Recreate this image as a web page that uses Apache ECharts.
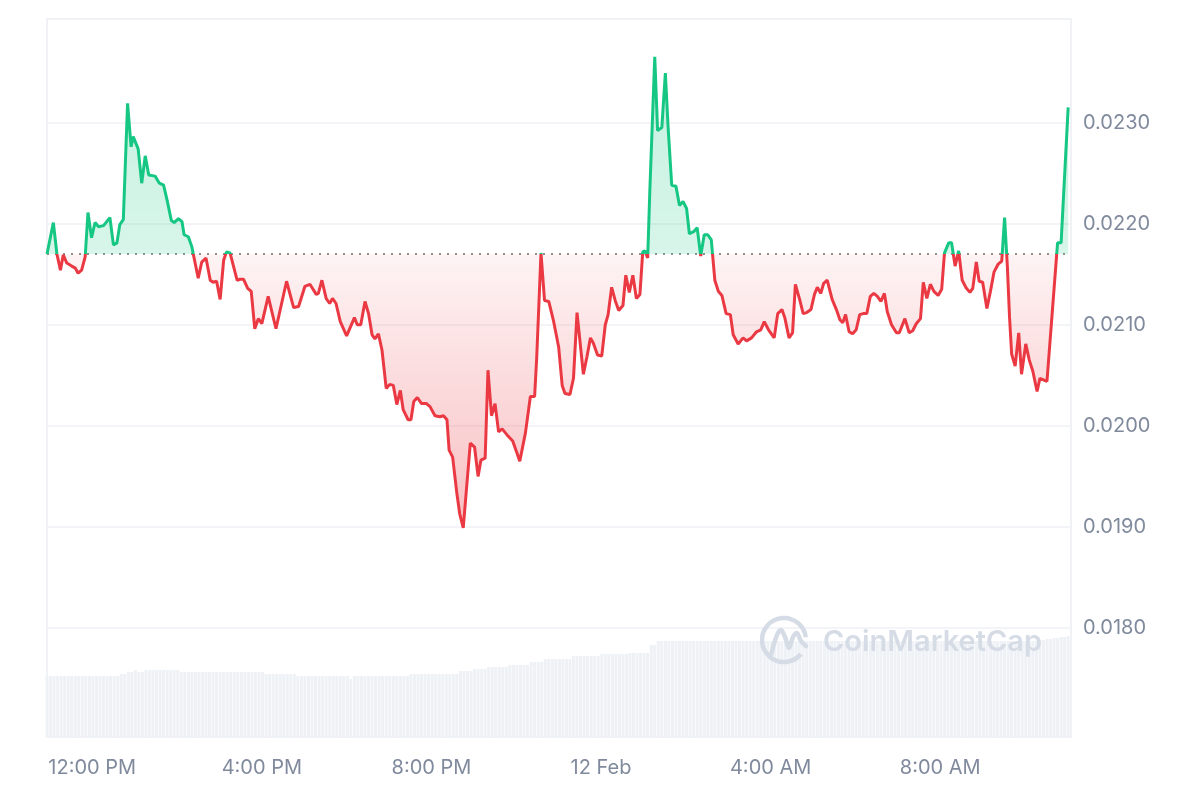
<!DOCTYPE html>
<html>
<head>
<meta charset="utf-8">
<script src="https://cdn.jsdelivr.net/npm/echarts@6/dist/echarts.min.js"></script>
<style>html,body{margin:0;padding:0;background:#fff}#c{width:1200px;height:800px}</style>
</head>
<body>
<div id="c"></div>
<script>
// minutes relative to 12:00 PM (11 Feb)
const priceTimes = [
-64,-55,-50,-45,-41,-36,-29,-24,-20,-15,-10,-6,-1,4,9,16,25,30,35,39,44,50,55,58,65,70,75,80,89,95,
101,106,112,116,122,127,130,136,141,143,150,155,161,167,171,176,181,186,190,195,205,209,214,220,225,
230,235,240,249,260,268,275,285,292,301,308,317,320,325,331,336,340,345,351,360,371,375,380,386,391,
396,400,405,410,416,421,426,431,436,440,447,451,455,460,466,473,478,485,492,497,502,505,510,516,520,
525,535,541,546,550,556,560,565,570,575,580,587,595,601,605,613,620,626,629,635,640,646,653,660,665,
669,676,681,686,695,700,705,709,715,721,726,730,735,740,745,751,755,760,765,770,775,779,782,786,789,
796,800,806,811,815,820,826,831,836,841,845,851,856,861,866,871,876,881,886,891,897,903,907,914,921,
926,933,940,946,951,957,965,970,976,980,986,991,995,1001,1006,1011,1017,1022,1026,1031,1035,1040,1047,1053,1058,
1062,1066,1071,1076,1081,1086,1091,1096,1101,1106,1111,1116,1121,1125,1131,1138,1142,1150,1156,1161,1166,1172,1176,1181,1186,
1191,1197,1202,1206,1212,1216,1221,1226,1231,1237,1242,1246,1251,1255,1260,1266,1271,1276,1282,1287,1291,1295,1298,1301,1306,
1311,1315,1321,1326,1331,1337,1341,1351,1366,1371,1381
];
const prices = [
0.02170,0.02201,0.02170,0.02154,0.02169,0.02161,0.02158,0.02156,0.02151,0.02154,0.02167,0.02211,0.02186,0.02201,0.02197,0.02198,0.02206,0.02179,0.02181,0.02199,0.02204,0.02319,0.02276,0.02286,0.02274,0.02240,0.02267,0.02248,0.02247,0.02240,
0.02238,0.02223,0.02203,0.02201,0.02205,0.02202,0.02189,0.02187,0.02177,0.02170,0.02146,0.02162,0.02166,0.02144,0.02142,0.02143,0.02125,0.02164,0.02172,0.02171,0.02144,0.02145,0.02145,0.02136,0.02133,
0.02096,0.02106,0.02101,0.02128,0.02096,0.02121,0.02143,0.02117,0.02118,0.02138,0.02140,0.02130,0.02131,0.02144,0.02126,0.02121,0.02126,0.02121,0.02103,0.02089,0.02107,0.02100,0.02100,0.02123,0.02111,
0.02090,0.02086,0.02091,0.02075,0.02037,0.02041,0.02040,0.02021,0.02035,0.02016,0.02006,0.02006,0.02024,0.02028,0.02022,0.02022,0.02019,0.02010,0.02009,0.02010,0.02006,0.01976,0.01969,0.01933,0.01913,
0.01899,0.01983,0.01979,0.01950,0.01966,0.01968,0.02055,0.02010,0.02022,0.01994,0.01997,0.01991,0.01985,0.01973,0.01965,0.01993,0.02029,0.02029,0.02068,0.02171,0.02124,0.02123,0.02103,0.02078,0.02040,
0.02032,0.02031,0.02047,0.02112,0.02051,0.02068,0.02087,0.02082,0.02070,0.02069,0.02100,0.02110,0.02137,0.02124,0.02114,0.02119,0.02149,0.02132,0.02149,0.02126,0.02130,0.02172,0.02173,0.02166,0.02232,
0.02365,0.02292,0.02295,0.02349,0.02294,0.02238,0.02237,0.02218,0.02222,0.02215,0.02190,0.02192,0.02196,0.02168,0.02189,0.02189,0.02184,0.02144,0.02133,0.02129,0.02111,0.02110,0.02090,0.02081,0.02087,
0.02084,0.02087,0.02093,0.02095,0.02103,0.02095,0.02087,0.02111,0.02115,0.02107,0.02087,0.02092,0.02140,0.02125,0.02111,0.02112,0.02115,0.02130,0.02137,0.02131,0.02141,0.02144,0.02125,0.02115,0.02105,
0.02102,0.02110,0.02093,0.02091,0.02095,0.02110,0.02111,0.02111,0.02128,0.02131,0.02128,0.02123,0.02131,0.02113,0.02100,0.02092,0.02092,0.02106,0.02092,0.02094,0.02101,0.02106,0.02142,0.02126,0.02140,
0.02133,0.02129,0.02135,0.02171,0.02181,0.02181,0.02158,0.02173,0.02144,0.02136,0.02132,0.02136,0.02162,0.02143,0.02142,0.02116,0.02133,0.02152,0.02160,0.02163,0.02206,0.02157,0.02108,0.02071,0.02059,
0.02092,0.02051,0.02081,0.02065,0.02054,0.02034,0.02047,0.02044,0.02181,0.02181,0.02315
];
// volume per 5-minute bar, starting at -64 min
const volStart = -64;
const volStep = 5;
const volumes = [
6.1,6.1,6.1,6.1,6.1,6.1,6.1,6.1,6.1,6.1,6.1,6.1,6.1,6.1,6.1,6.1,6.1,6.1,6.1,6.1,6.1,
6.3,6.3,6.5,6.5,6.7,6.5,6.5,
6.7,6.7,6.7,6.7,6.7,6.7,6.7,6.7,6.7,6.7,
6.5,6.5,6.5,6.5,6.5,6.5,6.5,6.5,6.5,6.5,6.5,6.5,6.5,6.5,6.5,6.5,6.5,6.5,6.5,6.5,6.5,6.5,6.5,6.5,
6.3,6.3,6.3,6.3,6.3,6.3,6.3,6.3,6.3,
6.1,6.1,6.1,6.1,6.1,6.1,6.1,6.1,6.1,6.1,6.1,6.1,6.1,6.1,6.1,
5.8,
6.1,6.1,6.1,6.1,6.1,6.1,6.1,6.1,6.1,6.1,6.1,6.1,6.1,6.1,6.1,6.1,
6.3,6.3,6.3,6.3,6.3,6.3,6.3,6.3,6.3,6.3,6.3,6.3,6.3,6.3,
6.6,6.6,6.6,6.6,6.8,6.8,6.8,6.8,
7.0,7.0,7.0,7.0,7.0,7.0,7.2,7.2,7.2,7.2,7.2,7.2,
7.5,7.5,7.5,7.5,7.8,7.8,7.8,7.8,7.8,7.8,7.8,7.8,
8.1,8.1,8.1,8.1,8.1,8.1,8.1,8.1,8.3,8.3,8.3,8.3,8.3,8.3,8.3,8.3,
8.4,8.4,8.4,8.4,8.4,8.4,9.2,9.2,
9.6,9.6,9.6,9.6,9.6,9.6,9.6,9.6,9.6,9.6,9.6,9.6,9.6,9.6,9.6,9.6,9.6,9.6,9.6,9.6,
9.6,9.6,9.6,9.6,9.6,9.6,9.6,9.6,9.6,9.6,9.6,9.6,9.6,9.6,9.6,9.6,9.6,9.6,9.6,9.6,
9.6,9.6,9.6,9.6,9.6,9.6,9.6,9.6,9.6,9.6,9.6,9.6,9.6,9.6,9.6,9.6,9.6,9.6,9.6,9.6,
9.6,9.6,9.6,9.6,9.6,9.6,9.6,9.6,9.6,9.6,9.6,9.6,9.6,9.6,9.6,9.6,9.6,9.6,9.6,9.6,
9.6,9.6,9.6,9.6,9.6,9.6,9.6,9.6,9.6,9.6,9.6,9.6,9.6,9.6,9.6,9.6,9.6,9.6,9.6,9.6,
9.6,9.6,9.6,9.6,9.6,9.6,9.6,9.6,
9.7,9.7,9.8,9.8,9.9,9.9,10.0,10.0,10.1
];
const yTicks = [0.0180, 0.0190, 0.0200, 0.0210, 0.0220, 0.0230];
const xTickValues = [0, 240, 480, 720, 960, 1200];
const xTickLabels = ['12:00 PM', '4:00 PM', '8:00 PM', '12 Feb', '4:00 AM', '8:00 AM'];

const GREEN = '#16c784', RED = '#ea3943';
const base = prices[0];
const maxP = Math.max(...prices), minP = Math.min(...prices);
const off = (maxP - base) / (maxP - minP);

const priceData = priceTimes.map((t, i) => [t, prices[i]]);
const volData = volumes.map((v, i) => [volStart + i * volStep, v]);

const chart = echarts.init(document.getElementById('c'), null, {renderer: 'canvas'});
const labelColor = '#808a9d';
const wm = '#d6dce6';
chart.setOption({
  animation: false,
  grid: {left: 47, right: 129, top: 19, bottom: 63, show: true, borderColor: '#eceef2', borderWidth: 1.5, containLabel: false},
  xAxis: {
    type: 'value', min: -64, max: 1385,
    axisLine: {show: false}, axisTick: {show: false, customValues: xTickValues}, splitLine: {show: false},
    axisLabel: {customValues: xTickValues, color: labelColor, fontFamily: 'Inter', fontSize: 20, margin: 21,
      formatter: v => xTickLabels[xTickValues.indexOf(v)] || ''}
  },
  yAxis: [{
    type: 'value', position: 'right', min: 0.016922, max: 0.024024,
    axisLine: {show: false}, axisTick: {show: false, customValues: yTicks},
    splitLine: {show: true, lineStyle: {color: '#eff1f4', width: 1.5}},
    axisLabel: {customValues: yTicks, color: labelColor, fontFamily: 'Inter', fontSize: 20, margin: 12,
      formatter: v => v.toFixed(4)}
  }, {
    type: 'value', min: 0, max: 71.8, show: false, splitLine: {show: false}
  }],
  graphic: [
    {type: 'arc', x: 784, y: 640, shape: {cx: 0, cy: 0, r: 22, startAngle: Math.PI * 0.22, endAngle: Math.PI * 1.96},
     style: {stroke: wm, lineWidth: 4.5, fill: 'none'}, z: 10, silent: true},
    {type: 'polyline', shape: {points: [[771, 655], [777, 635], [781, 630], [785, 637], [789, 648], [793, 637], [797, 633], [801, 641], [806, 646]], smooth: 0.35},
     style: {stroke: wm, lineWidth: 4.5, fill: 'none', lineCap: 'round', lineJoin: 'round'}, z: 10, silent: true},
    {type: 'text', x: 823, y: 642, style: {text: 'CoinMarketCap', font: '600 29px Inter', fill: wm, verticalAlign: 'middle'}, z: 10, silent: true}
  ],
  series: [{
    type: 'line', data: priceData, xAxisIndex: 0, yAxisIndex: 0, symbol: 'none', z: 5,
    lineStyle: {width: 3, color: new echarts.graphic.LinearGradient(0, 0, 0, 1, [
      {offset: 0, color: GREEN}, {offset: off, color: GREEN},
      {offset: off, color: RED}, {offset: 1, color: RED}
    ])},
    areaStyle: {origin: base, opacity: 1, color: new echarts.graphic.LinearGradient(0, 0, 0, 1, [
      {offset: 0, color: 'rgba(22,199,132,0.25)'},
      {offset: off, color: 'rgba(22,199,132,0.17)'},
      {offset: off, color: 'rgba(234,57,67,0.06)'},
      {offset: 1, color: 'rgba(234,57,67,0.32)'}
    ])},
    markLine: {silent: true, precision: 8, symbol: ['none', 'none'], label: {show: false},
      lineStyle: {color: '#8f8f8f', type: [2, 6], width: 2}, data: [{yAxis: base}]}
  }, {
    type: 'bar', data: volData, xAxisIndex: 0, yAxisIndex: 1, barWidth: 3, z: 1,
    itemStyle: {color: '#eef1f5'}, silent: true
  }]
});
</script>
</body>
</html>
